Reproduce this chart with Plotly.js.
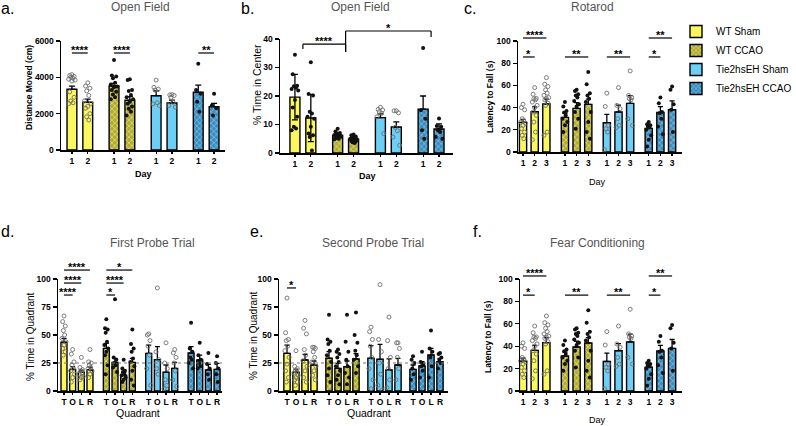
<!DOCTYPE html>
<html><head><meta charset="utf-8">
<script src="https://cdn.plot.ly/plotly-3.0.1.min.js"></script>
<style>html,body{margin:0;padding:0;background:#fff}</style>
</head><body><div id="chart" style="width:796px;height:426px"></div>
<script>
const groups = ['WT Sham','WT CCAO','Tie2hsEH Sham','Tie2hsEH CCAO'];

// a. Open Field – distance moved (cm)
const aTicks = ['1','2'];
const aYTicks = [0,2000,4000,6000];
const aMean = [[3340,2625],[3520,2735],[2990,2590],[3175,2385]];
const aErr  = [[180,180],[150,200],[260,150],[400,185]];
const aPts = [
 [[4150,4100,4050,4000,3950,3900,3850,3800,3200,2900,2700,2600,2550],[3700,3520,3400,3250,3000,2700,2560,2400,2300,2000,1830,1650]],
 [[4950,4100,4040,3950,3700,3600,3500,3450,3300,3200,3050,2900,2800],[3900,3850,3300,3250,3030,2900,2800,2650,2540,2400,2270,2100,1900]],
 [[3850,3450,3350,3300,2600,2540,2450],[3050,3030,3000,2900,2630,2450,2360]],
 [[4750,3300,3100,2650,2100],[3100,2450,2300,1900]]
];
const aSig = [[0,0,0,1,5340,'****'],[1,0,1,1,5340,'****'],[3,0,3,1,5340,'**']];

// b. Open Field – % time in center
const bTicks = ['1','2'];
const bYTicks = [0,10,20,30,40];
const bMean = [[19.6,12.3],[6.2,4.8],[12.4,9.1],[15.4,8.4]];
const bErr  = [[8,8.3],[0.5,0.4],[1.3,1.8],[4.6,1.8]];
const bPts = [
 [[34.5,27.6,23.6,23.4,22.9,22.5,21.9,18.6,16,12.7,9.2,8.6,8],[31.8,20.7,20.2,14.5,13.9,12.7,12,9.2,6.8,6.2,5.6,0.9]],
 [[8.5,7.5,7,6.8,6.5,6.3,6,6,5.8,5.5,5.2,5,4.8],[6.5,6.2,5.8,5.5,5.2,5,4.8,4.5,4.2,4,3.8,3.5]],
 [[16,15.3,15.1,14.5,13.9,12.7,6.8],[14.8,14.8,14.1,9,7.8,5.6,2.7]],
 [[36.8,15,12,8,5],[12.1,9.5,9.2,8,7.4,5.6,5]]
];
const bSig = [[0,0.5,1,0.5,38.2,'****',36.5,35.4],[1,0.5,3,0.5,42.8,'*',35.4,40.7]];

// c. Rotarod – latency to fall (s)
const cTicks = ['1','2','3'];
const cYTicks = [0,20,40,60,80,100];
const cMean = [[26.7,36.3,43.2],[31.2,39.3,42.9],[26.4,36,43.8],[21.3,35.7,38.1]];
const cErr  = [[2.7,4.5,4.5],[3.6,5.1,4.8],[7.5,6.3,7],[3,5.1,7.9]];
const cPts = [
 [[43,40,38,30,28,27,26,24,21,18,15,12],[58,52,48.3,48,47,45,42,40,36,33,27,18,11],[67,61,59,56,53,51,49,48,47,44,42,18,15]],
 [[45,41,37,35.6,33,30,27,24,18],[56,55,52,51,49,46,43,41,36,30,21],[72,61,53,51,48,45,36,27,18,12]],
 [[53,41,24,21,18,2],[58,42,39,30,24,22],[73,51,49,48,47,30,24]],
 [[27,25,24,23,22,20,15,11,5],[49,44,36,35,30,23,16],[59,56,43,38,18]]
];
const cSig = [[0,0,0,2,102.7,'****'],[0,0,0,1,85.6,'*'],[1,0,1,2,85.6,'**'],[2,0,2,2,85.6,'**'],[3,0,3,1,85.6,'*'],[3,0,3,2,102.7,'**']];

// d. First probe trial – % time in quadrant
const dTicks = ['T','O','L','R'];
const dYTicks = [0,25,50,75,100];
const dMean = [[43.5,19.3,16.7,18.8],[38.1,25.6,14,25.6],[33.6,28,16.7,20.2],[33.9,27.7,18.8,19.3]];
const dErr  = [[3.5,2.5,2,2.5],[4.5,3.5,2.5,3.5],[7.4,11.6,6.5,5.4],[5.7,4.4,5,5.4]];
const dPts = [
 [[67,62,58,54,50,47,44,41,38,35,32],[37,33,26,23,20,18,15,12,8],[30,21,19,18,16,15,13,12,10],[37,26,25,23,21,20,18,15,12]],
 [[64,56,55,52,44,41,38,35,32,23,15],[82,30,28,25,23,21,17],[28,20,18,17,15,14,12,10,8],[55,42,38,35,29,26,22,18,10,5]],
 [[51,50,45,40,32,20,5],[92,35,28,20,15],[43,25,20,10,5,2],[37,34,30,25,18,10,4]],
 [[61,38,35,30,28,25,20],[43,32,28,25,22,20],[34,24,20,15,10],[31,25,20,15,8]]
];
const dSig = [[0,0,0,1,85.7,'****'],[0,0,0,2,96.4,'****'],[0,0,0,3,108,'****'],[1,0,1,1,85.7,'*'],[1,0,1,2,96.4,'****'],[1,0,1,3,108,'*']];

// e. Second probe trial – % time in quadrant
const eTicks = ['T','O','L','R'];
const eYTicks = [0,25,50,75,100];
const eMean = [[33.6,16.7,27.7,23.2],[29.2,20.2,21.7,28.6],[29.2,28.3,18.8,23.2],[19.3,22.3,32.1,26.2]];
const eErr  = [[7.4,2.9,5,3.6],[5.9,4.5,5.1,4.7],[11.3,13.4,9.8,6],[3.9,3.9,6,3]];
const ePts = [
 [[83,52,46,45,40,36,30,24,18,12,8],[36,22,20,18,17,16,14,12,10,8,5],[63,56,51,37,32,27,22,18,12,8],[39,39,38,35,30,26,22,18,14,10]],
 [[68,46,44,42,36,32,26,20,14,8],[37,35,33,30,26,22,18,14,10,6],[68,44,35,28,22,16,12,6],[70,50,43,36,32,28,22,16]],
 [[57,53,46,40,30,20,10,2],[95,46,35,25,15,5,1],[66,45,30,20,10,3],[43,43,38,30,20,10]],
 [[31,28,25,20,15,10],[35,26,24,22,18,12],[54,38,35,30,22,12],[34,33,30,28,25,20]]
];
const eSig = [[0,0,0,1,92,'*']];

// f. Fear conditioning (same values as shown for rotarod)
const fTicks = ['1','2','3'];
const fYTicks = [0,20,40,60,80,100];
const fMean = cMean, fErr = cErr, fPts = cPts, fSig = cSig;

// ---------- styling / layout ----------
const W = 796, H = 426, FONT = 'Liberation Sans';
const fills = ['#fbf75f','#aeaa3a','#6dcff6','#3b8bbd'];
const pats = [null,{shape:'x',fgcolor:'#e4df66',bgcolor:'#aeaa3a',size:4,solidity:0.35},null,{shape:'x',fgcolor:'#79c3e8',bgcolor:'#3b8bbd',size:4,solidity:0.35}];

const panels = [
 {px:[61,225,41,150], range:[0.31,10.67], gap:2.66, w:0.62, cap:3, ymax:6000, ticks:aTicks, yt:aYTicks, mean:aMean, err:aErr, pts:aPts, sig:aSig, open:[1,0,1,0], lower:[0,0,0,0]},
 {px:[280,453,39,153], range:[0.06,10.95], gap:2.69, w:0.63, cap:3, ymax:40, ticks:bTicks, yt:bYTicks, mean:bMean, err:bErr, pts:bPts, sig:bSig, open:[0,0,1,0], lower:[1,0,0,0]},
 {px:[518,682,41,152], range:[0.57,14.62], gap:3.59, w:0.62, cap:2.5, ymax:100, ticks:cTicks, yt:cYTicks, mean:cMean, err:cErr, pts:cPts, sig:cSig, open:[1,0,1,0], lower:[0,0,0,0]},
 {px:[58,222,279,391], range:[0.31,19.24], gap:4.89, w:0.69, cap:2.5, ymax:100, ticks:dTicks, yt:dYTicks, mean:dMean, err:dErr, pts:dPts, sig:dSig, open:[1,0,1,0], lower:[0,0,0,0], chance:25},
 {px:[279,448,279,391], range:[0.11,18.9], gap:4.67, w:0.7, cap:2.5, ymax:100, ticks:eTicks, yt:eYTicks, mean:eMean, err:eErr, pts:ePts, sig:eSig, open:[1,0,1,0], lower:[0,0,0,0], chance:25},
 {px:[520,682,279,391], range:[0.74,14.62], gap:3.59, w:0.62, cap:2.5, ymax:100, ticks:fTicks, yt:fYTicks, mean:fMean, err:fErr, pts:fPts, sig:fSig, open:[1,0,1,0], lower:[0,0,0,0]}
];

function pos(p,g,i){ return g*p.gap + i + 1; }
const jit = [0,-1,1,-0.5,0.5,-1.5,1.5];

const traces = [], shapes = [], annotations = [];
const layout = {width:W, height:H, margin:{l:0,r:0,t:0,b:0,autoexpand:false}, paper_bgcolor:'#fff', plot_bgcolor:'rgba(0,0,0,0)',
  barmode:'overlay', font:{family:FONT, color:'#000'}, showlegend:true,
  legend:{x:676/W, y:1-17/H, xanchor:'left', yanchor:'top', font:{size:10, family:FONT, color:'#000'}, tracegroupgap:0, bgcolor:'rgba(0,0,0,0)'}};

panels.forEach((p,k)=>{
  const n = k===0 ? '' : String(k+1);
  const xa = 'x'+n, ya = 'y'+n;
  const tv = [], tt = [];
  p.mean.forEach((arr,g)=>{
    const xs = arr.map((v,i)=>pos(p,g,i));
    xs.forEach((x,i)=>{tv.push(x); tt.push(p.ticks[i]);});
    traces.push({type:'bar', x:xs, y:arr, width:p.w, xaxis:xa, yaxis:ya, name:groups[g], showlegend:k===0,
      marker:Object.assign({color:fills[g], line:{color:'#000', width:1.4}}, pats[g]?{pattern:pats[g]}:{}),
      error_y:{type:'data', symmetric:false, array:p.err[g], arrayminus:p.lower[g]?p.err[g]:p.err[g].map(()=>0), color:'#000', thickness:1.3, width:p.cap},
      hoverinfo:'skip'});
  });
  p.pts.forEach((bars,g)=>{
    const x=[], y=[];
    bars.forEach((vals,i)=>vals.forEach((v,j)=>{ x.push(pos(p,g,i) + jit[j%jit.length]*p.w*0.22); y.push(v); }));
    traces.push({type:'scatter', mode:'markers', x, y, xaxis:xa, yaxis:ya, showlegend:false, cliponaxis:false, hoverinfo:'skip',
      marker: p.open[g] ? {symbol:'circle-open', size:4, color:'#6e6e6e', line:{width:0.9}} : {symbol:'circle', size:4, color:'#111'}});
  });
  layout['xaxis'+n] = {domain:[p.px[0]/W, p.px[1]/W], range:p.range, anchor:ya, showline:true, linecolor:'#000', linewidth:1.5,
    ticks:'outside', ticklen:2, tickwidth:1.2, tickcolor:'#000', tickvals:tv, ticktext:tt, tickfont:{size:8.5, weight:'bold', color:'#000'},
    showgrid:false, zeroline:false, automargin:false, fixedrange:true};
  layout['yaxis'+n] = {domain:[1-p.px[3]/H, 1-p.px[2]/H], range:[0,p.ymax], anchor:xa, showline:true, linecolor:'#000', linewidth:1.5,
    ticks:'outside', ticklen:4, tickwidth:1.2, tickcolor:'#000', tickvals:p.yt, ticktext:p.yt.map(String), tickfont:{size:8.5, weight:'bold', color:'#000'},
    showgrid:false, zeroline:false, automargin:false, fixedrange:true};
  if (p.chance !== undefined) {
    shapes.push({type:'line', xref:xa+' domain', x0:0, x1:1, yref:ya, y0:p.chance, y1:p.chance, line:{color:'#777', width:1.2, dash:'dot'}});
  }
  const yd = ya+' domain';
  p.sig.forEach(s=>{
    const x0 = pos(p,s[0],s[1]), x1 = pos(p,s[2],s[3]), yv = s[4]/p.ymax;
    shapes.push({type:'line', xref:xa, yref:yd, x0, x1, y0:yv, y1:yv, line:{color:'#000', width:1.2}});
    if (s[6] !== undefined) shapes.push({type:'line', xref:xa, yref:yd, x0, x1:x0, y0:yv, y1:s[6]/p.ymax, line:{color:'#000', width:1.2}});
    if (s[7] !== undefined) shapes.push({type:'line', xref:xa, yref:yd, x0:x1, x1, y0:yv, y1:s[7]/p.ymax, line:{color:'#000', width:1.2}});
    annotations.push({text:s[5], xref:xa, yref:yd, x:(x0+x1)/2, y:yv, xanchor:'center', yanchor:'bottom', yshift:-5, showarrow:false,
      font:{size:11, color:'#000', family:FONT, weight:'bold'}});
  });
});

function txt(t,x,y,size,o){
  return Object.assign({text:t, x:x/W, y:1-y/H, xref:'paper', yref:'paper', showarrow:false, xanchor:'center', yanchor:'middle',
    font:Object.assign({size, color:'#000', family:FONT}, (o&&o.f)||{})}, o&&o.a||{});
}
const B = {weight:'bold'}, GR = {color:'#555'}, ROT = {textangle:-90};
annotations.push(
  txt('a.',7,8,16), txt('b.',247,8,16), txt('c.',470,8,16),
  txt('d.',7,231,16), txt('e.',256,231,16), txt('f.',477,231,16),
  txt('Open Field',140,7,12,{f:GR}), txt('Open Field',360,7,12,{f:GR}), txt('Rotarod',592,7,12,{f:GR}),
  txt('First Probe Trial',152,243,12,{f:GR}), txt('Second Probe Trial',373,243,12,{f:GR}), txt('Fear Conditioning',597,243,12,{f:GR}),
  txt('Day',143,174,9,{f:B}), txt('Day',367,176,9,{f:B}), txt('Day',597,182,9),
  txt('Quadrant',138,413,10.5), txt('Quadrant',369,413,10.5), txt('Day',597,420,9),
  txt('Distance Moved (cm)',29,88,8.5,{f:B,a:ROT}), txt('% Time in Center',257,85,10.5,{a:ROT}),
  txt('Latency to Fall (s)',490,97,8.5,{f:B,a:ROT}),
  txt('% Time in Quadrant',30,336,10,{a:ROT}), txt('% Time in Quadrant',253,336,10,{a:ROT}),
  txt('Latency to Fall (s)',488,337,8.5,{f:B,a:ROT})
);
layout.shapes = shapes;
layout.annotations = annotations;
Plotly.newPlot('chart', traces, layout, {staticPlot:true, displayModeBar:false});
</script>
</body></html>
